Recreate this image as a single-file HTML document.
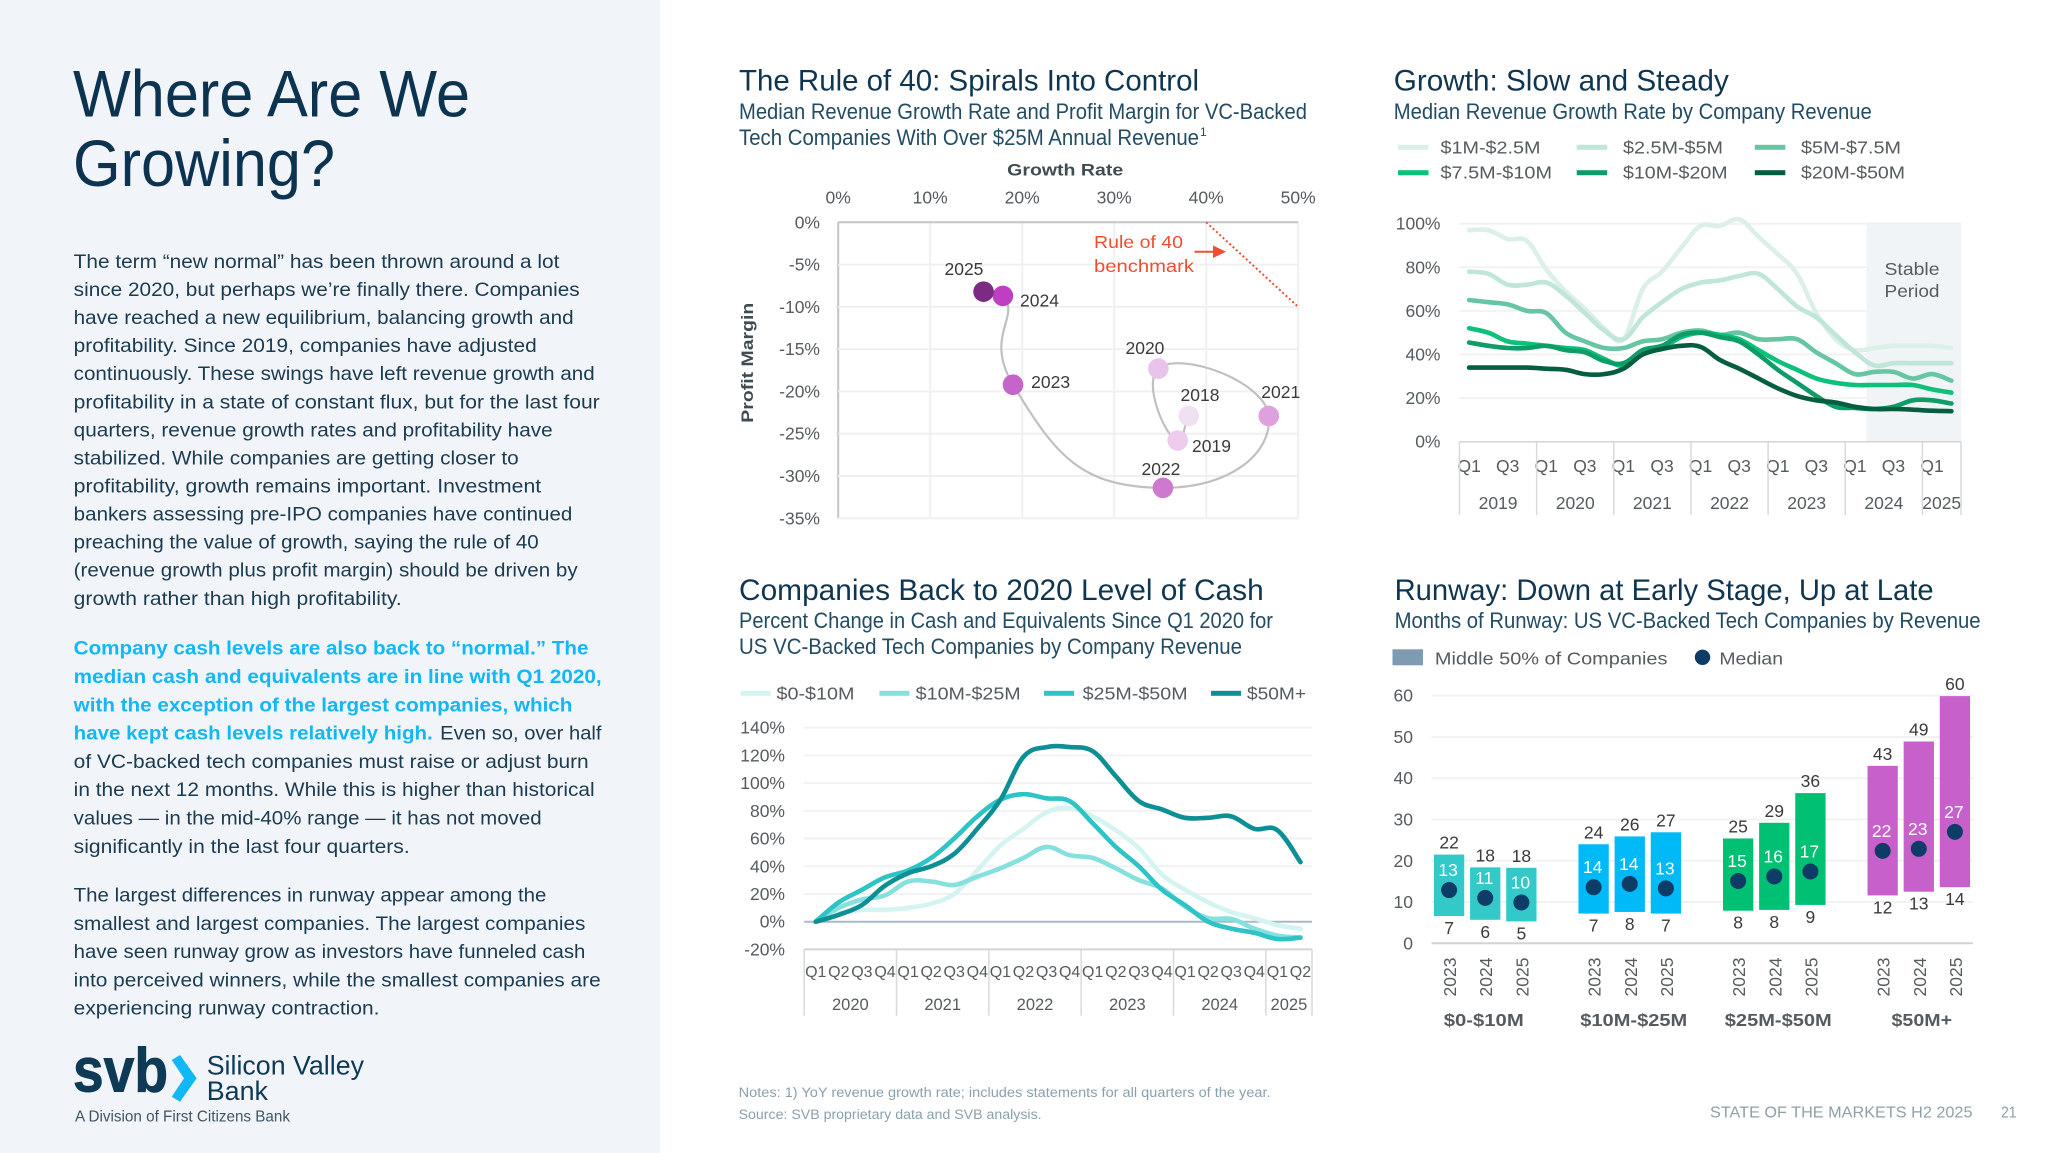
<!DOCTYPE html>
<html lang="en">
<head>
<meta charset="utf-8">
<title>Where Are We Growing?</title>
<style>
html,body{margin:0;padding:0;background:#fff;}
svg{display:block;font-family:"Liberation Sans",sans-serif;}
.body-t{font-size:19.5px;fill:#1a3b50;}
.bold-t{font-size:19.5px;fill:#12b8f5;font-weight:bold;}
.title{font-size:30px;fill:#0f3550;}
.sub{font-size:22px;fill:#234c63;}
.lab{font-size:17.5px;fill:#555b5f;}
</style>
</head>
<body>
<svg id="page" xmlns="http://www.w3.org/2000/svg" width="2048" height="1153" viewBox="0 0 2048 1153">
<rect x="0" y="0" width="2048" height="1153" fill="#ffffff"/>
<rect x="0" y="0" width="660" height="1153" fill="#f1f4f9"/>

<g font-size="66" fill="#0c3350">
<text x="73" y="116.6" textLength="397">Where Are We</text>
<text x="73" y="185.8" textLength="262">Growing?</text>
</g>

<g transform="translate(0,-1)">
<text class="body-t" x="73.7" y="268.9" textLength="485.7">The term “new normal” has been thrown around a lot</text>
<text class="body-t" x="73.7" y="297" textLength="506">since 2020, but perhaps we’re finally there. Companies</text>
<text class="body-t" x="73.7" y="325" textLength="500">have reached a new equilibrium, balancing growth and</text>
<text class="body-t" x="73.7" y="353.1" textLength="463">profitability. Since 2019, companies have adjusted</text>
<text class="body-t" x="73.7" y="381.2" textLength="521">continuously. These swings have left revenue growth and</text>
<text class="body-t" x="73.7" y="409.3" textLength="526">profitability in a state of constant flux, but for the last four</text>
<text class="body-t" x="73.7" y="437.4" textLength="479">quarters, revenue growth rates and profitability have</text>
<text class="body-t" x="73.7" y="465.4" textLength="445">stabilized. While companies are getting closer to</text>
<text class="body-t" x="73.7" y="493.5" textLength="467.5">profitability, growth remains important. Investment</text>
<text class="body-t" x="73.7" y="521.6" textLength="498.7">bankers assessing pre-IPO companies have continued</text>
<text class="body-t" x="73.7" y="549.7" textLength="465">preaching the value of growth, saying the rule of 40</text>
<text class="body-t" x="73.7" y="577.7" textLength="504">(revenue growth plus profit margin) should be driven by</text>
<text class="body-t" x="73.7" y="605.8" textLength="328">growth rather than high profitability.</text>
</g>

<g>
<text class="bold-t" x="73.7" y="654.7" textLength="514.8">Company cash levels are also back to “normal.” The</text>
<text class="bold-t" x="73.7" y="683.2" textLength="528">median cash and equivalents are in line with Q1 2020,</text>
<text class="bold-t" x="73.7" y="711.5" textLength="498.7">with the exception of the largest companies, which</text>
<text class="bold-t" x="73.7" y="739.7" textLength="359">have kept cash levels relatively high.</text>
<text class="body-t" x="440.2" y="739.7" textLength="161.3">Even so, over half</text>
<text class="body-t" x="73.7" y="767.9" textLength="515">of VC-backed tech companies must raise or adjust burn</text>
<text class="body-t" x="73.7" y="796" textLength="521">in the next 12 months. While this is higher than historical</text>
<text class="body-t" x="73.7" y="824.7" textLength="468">values — in the mid-40% range — it has not moved</text>
<text class="body-t" x="73.7" y="852.9" textLength="336">significantly in the last four quarters.</text>
</g>

<g transform="translate(0,-1)">
<text class="body-t" x="73.7" y="902.6" textLength="472.7">The largest differences in runway appear among the</text>
<text class="body-t" x="73.7" y="930.9" textLength="511.7">smallest and largest companies. The largest companies</text>
<text class="body-t" x="73.7" y="959" textLength="511.7">have seen runway grow as investors have funneled cash</text>
<text class="body-t" x="73.7" y="987.3" textLength="527">into perceived winners, while the smallest companies are</text>
<text class="body-t" x="73.7" y="1015.5" textLength="305.7">experiencing runway contraction.</text>
</g>

<g>
<text x="73" y="1091.7" font-size="62" font-weight="bold" fill="#0f3a55" stroke="#0f3a55" stroke-width="0.9" textLength="95">svb</text>
<polygon points="171.7,1060 180,1055 196.7,1078.3 180,1101.7 171.7,1096.7 184,1078.3" fill="#12b8f5"/>
<text x="206.7" y="1074.3" font-size="27" fill="#0f3a55" textLength="157.3">Silicon Valley</text>
<text x="206.7" y="1100" font-size="27" fill="#0f3a55" textLength="61.3">Bank</text>
<text x="75" y="1121.7" font-size="16" fill="#3f5565" textLength="215">A Division of First Citizens Bank</text>
</g>

<g>
<text class="title" x="739" y="90.7" textLength="460">The Rule of 40: Spirals Into Control</text>
<text class="sub" x="739" y="119" textLength="568">Median Revenue Growth Rate and Profit Margin for VC-Backed</text>
<text class="sub" x="739" y="145" textLength="460">Tech Companies With Over $25M Annual Revenue</text>
<text x="1200" y="136" font-size="12" fill="#234c63">1</text>
</g>
<g id="chart1"></g>

<g>
<text class="title" x="1393.8" y="90.7" textLength="335">Growth: Slow and Steady</text>
<text class="sub" x="1393.8" y="119" textLength="478">Median Revenue Growth Rate by Company Revenue</text>
</g>
<g id="chart2"></g>

<g>
<text class="title" x="739" y="600" textLength="524.7">Companies Back to 2020 Level of Cash</text>
<text class="sub" x="739" y="628" textLength="534">Percent Change in Cash and Equivalents Since Q1 2020 for</text>
<text class="sub" x="739" y="654" textLength="503">US VC-Backed Tech Companies by Company Revenue</text>
</g>
<g id="chart3"></g>

<g>
<text class="title" x="1394.6" y="600" textLength="539">Runway: Down at Early Stage, Up at Late</text>
<text class="sub" x="1394.6" y="628" textLength="586">Months of Runway: US VC-Backed Tech Companies by Revenue</text>
</g>
<g id="chart4"></g>

<g fill="#8ba0ad">
<text x="738.6" y="1097" font-size="13.5" textLength="532">Notes: 1) YoY revenue growth rate; includes statements for all quarters of the year.</text>
<text x="738.6" y="1119" font-size="13.5" textLength="303">Source: SVB proprietary data and SVB analysis.</text>
<text x="1710" y="1117.5" font-size="15.5" textLength="262.5" fill="#8da0a8">STATE OF THE MARKETS H2 2025</text>
<text x="2001" y="1117.5" font-size="15.5" textLength="15.6" fill="#8da0a8">21</text>
</g>
</svg>

<script>
/* ---------- Rule of 40 data ---------- */
const r40Years = ['2018','2019','2020','2021','2022','2023','2024','2025'];
const r40Growth = [38.1,36.9,34.8,46.8,35.3,19,17.9,15.8];
const r40Margin = [-22.9,-25.8,-17.3,-22.9,-31.4,-19.2,-8.7,-8.2];
const r40XTicks = [0,10,20,30,40,50];
const r40YTicks = [0,-5,-10,-15,-20,-25,-30,-35];
const r40Benchmark = [40,50];

/* ---------- Growth data ---------- */
const growthQuarters = ['Q1','','Q3','','Q1','','Q3','','Q1','','Q3','','Q1','','Q3','','Q1','','Q3','','Q1','','Q3','','Q1',''];
const growthYears = ['2019','2020','2021','2022','2023','2024','2025'];
const growthYearQuarters = [4,4,4,4,4,4,2];
const growthYTicks = [0,20,40,60,80,100];
const growthNames = ['$1M-$2.5M','$2.5M-$5M','$5M-$7.5M','$7.5M-$10M','$10M-$20M','$20M-$50M'];
const growthA = [97,97,93,92,79,69,61,52,47,70,78,89,99,99,102,94,86,77,59,47,42,43,44,44,44,43];
const growthB = [78,77,72,72,73,67,59,51,47,57,64,70,73,74,76,77,70,62,57,49,41,35,36,36,36,36];
const growthC = [65,64,63,60,59,50,46,43,43,46,47,50,51,49,50,47,47,47,41,36,31,32,32,29,31,28];
const growthD = [52,50,46,45,44,43,42,38,35,41,43,48,50,49,47,42,37,33,29,27,26,26,26,26,24,22.5];
const growthE = [45.5,44,43,43,44,42,41,37,36,42,44,49,50,48,46,40,33,27,21,16,15.5,15,16,19,19,17.5];
const growthF = [34,34,34,34,33.5,33,31,31,33.5,40,42.5,44,43.5,37.5,33.5,29,24.5,21,19,18,16,15,15,14.7,14.2,14];
const growthSeries = [growthA,growthB,growthC,growthD,growthE,growthF];

/* ---------- Cash data ---------- */
const cashQuarters = ['Q1','Q2','Q3','Q4','Q1','Q2','Q3','Q4','Q1','Q2','Q3','Q4','Q1','Q2','Q3','Q4','Q1','Q2','Q3','Q4','Q1','Q2'];
const cashYears = ['2020','2021','2022','2023','2024','2025'];
const cashYearQuarters = [4,4,4,4,4,2];
const cashYTicks = [-20,0,20,40,60,80,100,120,140];
const cashNames = ['$0-$10M','$10M-$25M','$25M-$50M','$50M+'];
const cashA = [0,6,8.5,8.5,10,13,20,37,55,67,79,82,76,66,53,34,23,14,7,2.5,-2.5,-5];
const cashB = [0,10,16,19,29,29,26.5,32.5,38.5,46,54,48,46,38.5,30,24,11,2.5,2,-5,-10,-11.5];
const cashC = [0,14,23,32,37,46,60,76,88,92,89,87,71,54,40,23,12,0,-5,-8,-12.5,-11.5];
const cashD = [0,5,12,26,35,40,49,67,88,119,126,126,123,105,87,81,75,75,76,67,66,43];
const cashSeries = [cashA,cashB,cashC,cashD];

/* ---------- Runway data ---------- */
const runwayGroups = ['$0-$10M','$10M-$25M','$25M-$50M','$50M+'];
const runwayYears = ['2023','2024','2025'];
const runwayYTicks = [0,10,20,30,40,50,60];
const runwayLow = [6.6,5.7,5.3,7.2,7.6,7.2,7.9,8.1,9.3,11.6,12.5,13.6];
const runwayHigh = [21.5,18.4,18.3,24,25.9,26.9,25.4,29.2,36.4,43,48.9,59.9];
const runwayMedian = [12.9,11,9.9,13.6,14.4,13.3,15.1,16.2,17.4,22.4,22.9,27];

/* ---------- Helpers ---------- */
const NS = 'http://www.w3.org/2000/svg';
function make(tag, attrs, parent, txt){
  const n = document.createElementNS(NS, tag);
  for (const k in attrs) n.setAttribute(k, attrs[k]);
  if (txt !== undefined) n.textContent = txt;
  parent.appendChild(n);
  return n;
}
function smooth(pts, t){
  let d = 'M' + pts[0][0].toFixed(1) + ' ' + pts[0][1].toFixed(1);
  for (let i = 0; i < pts.length - 1; i++){
    const p0 = pts[Math.max(i-1,0)], p1 = pts[i], p2 = pts[i+1], p3 = pts[Math.min(i+2,pts.length-1)];
    const c1x = p1[0] + (p2[0]-p0[0])*t, c1y = p1[1] + (p2[1]-p0[1])*t;
    const c2x = p2[0] - (p3[0]-p1[0])*t, c2y = p2[1] - (p3[1]-p1[1])*t;
    d += 'C' + c1x.toFixed(1) + ' ' + c1y.toFixed(1) + ' ' + c2x.toFixed(1) + ' ' + c2y.toFixed(1) + ' ' + p2[0].toFixed(1) + ' ' + p2[1].toFixed(1);
  }
  return d;
}
/* centripetal spline: keeps the spiral rounded where point spacing is uneven */
function centripetal(pts, f){
  const gap = (a,b) => Math.sqrt(Math.hypot(b[0]-a[0], b[1]-a[1])) || 1e-6;
  const tangent = (prev,cur,next) => {
    if (!prev) { const d = gap(cur,next); return [(next[0]-cur[0])/d, (next[1]-cur[1])/d]; }
    if (!next) { const d = gap(prev,cur); return [(cur[0]-prev[0])/d, (cur[1]-prev[1])/d]; }
    const d1 = gap(prev,cur), d2 = gap(cur,next);
    return [0,1].map(k => (cur[k]-prev[k])/d1 - (next[k]-prev[k])/(d1+d2) + (next[k]-cur[k])/d2);
  };
  let d = 'M' + pts[0][0].toFixed(1) + ' ' + pts[0][1].toFixed(1);
  for (let i = 0; i < pts.length - 1; i++){
    const p1 = pts[i], p2 = pts[i+1];
    const m1 = tangent(pts[i-1], p1, p2), m2 = tangent(p1, p2, pts[i+2]);
    const h = gap(p1,p2) * f;
    d += 'C' + (p1[0]+m1[0]*h).toFixed(1) + ' ' + (p1[1]+m1[1]*h).toFixed(1) + ' ' + (p2[0]-m2[0]*h).toFixed(1) + ' ' + (p2[1]-m2[1]*h).toFixed(1) + ' ' + p2[0].toFixed(1) + ' ' + p2[1].toFixed(1);
  }
  return d;
}

/* ---------- Chart 1: Rule of 40 ---------- */
(function(){
  const g = document.getElementById('chart1');
  const px = v => 838.2 + v * 9.2;
  const py = v => 222.3 - v * 8.457;
  const pointColors = ['#f1e0f2','#edccee','#e8c4ea','#dfa0de','#cf78d0','#c565c9','#bf3fc2','#7d2a85'];
  const labelOffsetX = [11.3,33.8,-13.4,12,-2,37.6,36.6,-19.6];
  const labelOffsetY = [-21,5.5,-20.6,-24,-18.8,-2.7,4.8,-22.6];
  r40XTicks.forEach(t => {
    const l = make('line',{x1:px(t),x2:px(t),y1:py(0),y2:py(-35),stroke:t===0?'#c4c4c4':'#f0f0f0','stroke-width':2},g);
    
    
    const n = make('text',{x:px(t),y:197.7,'text-anchor':'middle','dominant-baseline':'central',class:'lab'},g,t+'%');
    
    
  });
  r40YTicks.forEach(t => {
    const l = make('line',{x1:px(0),x2:px(50),y1:py(t),y2:py(t),stroke:t===0?'#c4c4c4':'#f0f0f0','stroke-width':2},g);
    
    
    const n = make('text',{x:820,y:py(t),'text-anchor':'end','dominant-baseline':'central',class:'lab'},g,t+'%');
    
    
  });
  const xt = make('text',{x:1065.2,y:170,'text-anchor':'middle','dominant-baseline':'central','font-size':17,'font-weight':'bold',fill:'#3f4d52',textLength:116},g,'Growth Rate');
  
  
  const yt = make('text',{x:0,y:0,'text-anchor':'middle','dominant-baseline':'central','font-size':17,'font-weight':'bold',fill:'#3f4d52',textLength:120,transform:'translate(747.7,362.7) rotate(-90)'},g,'Profit Margin');
  
  
  const bench = make('line',{x1:px(r40Benchmark[0]),y1:py(0),x2:px(r40Benchmark[1]),y2:py(r40Benchmark[0]-r40Benchmark[1]),stroke:'#f04e30','stroke-width':2,'stroke-dasharray':'2 2.5'},g);
  
  
  const rt1 = make('text',{x:1094,y:242,'dominant-baseline':'central','font-size':17.5,fill:'#f04e30',textLength:89},g,'Rule of 40');
  
  
  const rt2 = make('text',{x:1094,y:266,'dominant-baseline':'central','font-size':17.5,fill:'#f04e30',textLength:100},g,'benchmark');
  
  
  const arL = make('line',{x1:1194.5,y1:251.7,x2:1218,y2:251.7,stroke:'#f04e30','stroke-width':2},g);
  
  
  const arH = make('polygon',{points:'1213,245.5 1226,251.7 1213,258',fill:'#f04e30'},g);
  
  
  const pts = r40Growth.map((v,i) => [px(v), py(r40Margin[i])]);
  const path = make('path',{d:centripetal(pts,0.6),fill:'none',stroke:'#c0c0c0','stroke-width':2.2},g);
  
  
  pts.forEach((p,i) => {
    const c = make('circle',{cx:p[0],cy:p[1],r:10.3,fill:pointColors[i]},g);
    
    
  });
  pts.forEach((p,i) => {
    const n = make('text',{x:p[0]+labelOffsetX[i],y:p[1]+labelOffsetY[i],'text-anchor':'middle','dominant-baseline':'central','font-size':17.5,fill:'#3a3a3a'},g,r40Years[i]);
    
    
  });
})();

/* ---------- Chart 2: Growth ---------- */
(function(){
  const g = document.getElementById('chart2');
  const left = 1459.5, right = 1961, step = (right-left)/growthQuarters.length;
  const px = i => left + step*(i+0.5);
  const py = v => 441.7 - v*2.18;
  const colors = ['#dcefe8','#bfe6d8','#66c6a2','#0cc27a','#0f9d67','#045e3f'];
  const legendSwatch = [1398,1576.7,1754.8];
  const legendText = [1440.5,1623,1801];
  const legendRow = [147.3,172.7];
  const legendWidth = [100,100,100,111.5,104.6,104];
  growthYTicks.forEach(t => {
    if (t !== 0){
      const l = make('line',{x1:left,x2:right,y1:py(t),y2:py(t),stroke:'#f2f2f2','stroke-width':2},g);
      
      
    }
    const n = make('text',{x:1440.5,y:py(t),'text-anchor':'end','dominant-baseline':'central',class:'lab'},g,t+'%');
    
    
  });
  const sr = make('rect',{x:left+step*21.1,y:222.3,width:right-left-step*21.1,height:441.7-222.3,fill:'#f1f4f6'},g);
  
  
  const s1 = make('text',{x:1912,y:269,'text-anchor':'middle','dominant-baseline':'central',class:'lab',textLength:55},g,'Stable');
  
  
  const s2 = make('text',{x:1912,y:291,'text-anchor':'middle','dominant-baseline':'central',class:'lab',textLength:55},g,'Period');
  
  
  const ax = make('line',{x1:left,x2:right,y1:py(0),y2:py(0),stroke:'#d4d4d4','stroke-width':1.5},g);
  
  
  growthQuarters.forEach((q,i) => {
    if (!q) return;
    const n = make('text',{x:px(i),y:466,'text-anchor':'middle','dominant-baseline':'central',class:'lab'},g,q);
    
    
  });
  let pos = 0;
  growthYears.forEach((y,i) => {
    const x0 = left + pos*step;
    const sep = make('line',{x1:x0,x2:x0,y1:441.7,y2:515,stroke:'#d9d9d9','stroke-width':1.5},g);
    
    
    const n = make('text',{x:x0+growthYearQuarters[i]*step/2,y:503,'text-anchor':'middle','dominant-baseline':'central',class:'lab'},g,y);
    
    
    pos += growthYearQuarters[i];
  });
  const endSep = make('line',{x1:right,x2:right,y1:441.7,y2:515,stroke:'#d9d9d9','stroke-width':1.5},g);
  
  
  growthSeries.forEach((s,k) => {
    const path = make('path',{d:smooth(s.map((v,i)=>[px(i),py(v)]),0.18),fill:'none',stroke:colors[k],'stroke-width':4.6,'stroke-linecap':'round','stroke-linejoin':'round'},g);
    
    
  });
  growthNames.forEach((nm,k) => {
    const col = k%3, row = Math.floor(k/3);
    const sw = make('rect',{x:legendSwatch[col],y:legendRow[row]-2.5,width:30.5,height:5,fill:colors[k]},g);
    
    
    const n = make('text',{x:legendText[col],y:legendRow[row],'dominant-baseline':'central',class:'lab',textLength:legendWidth[k]},g,nm);
    
    
  });
})();

/* ---------- Chart 3: Cash ---------- */
(function(){
  const g = document.getElementById('chart3');
  const left = 804.2, right = 1312, step = (right-left)/cashQuarters.length;
  const px = i => left + step*(i+0.5);
  const py = v => 921.7 - v*1.386;
  const colors = ['#d3f4f1','#86e0de','#2ec4c6','#0d8f96'];
  const swX = [740.6,879.4,1044,1211];
  const txtX = [776.5,915.7,1082.6,1247];
  const txtW = [78,105,105,59];
  cashYTicks.forEach(t => {
    const stroke = t===0 ? '#a9b9c6' : (t===-20 ? '#d4d4d4' : '#f2f2f2');
    const l = make('line',{x1:left,x2:right,y1:py(t),y2:py(t),stroke:stroke,'stroke-width':2},g);
    
    
    const n = make('text',{x:785,y:py(t),'text-anchor':'end','dominant-baseline':'central',class:'lab'},g,t+'%');
    
    
  });
  cashQuarters.forEach((q,i) => {
    const n = make('text',{x:px(i),y:972.7,'text-anchor':'middle','dominant-baseline':'central','font-size':16,fill:'#555b5f'},g,q);
    
    
  });
  let pos = 0;
  cashYears.forEach((y,i) => {
    const x0 = left + pos*step;
    const sep = make('line',{x1:x0,x2:x0,y1:py(-20),y2:1015.7,stroke:'#d9d9d9','stroke-width':1.5},g);
    
    
    const n = make('text',{x:x0+cashYearQuarters[i]*step/2,y:1005,'text-anchor':'middle','dominant-baseline':'central','font-size':16.5,fill:'#555b5f'},g,y);
    
    
    pos += cashYearQuarters[i];
  });
  const endSep = make('line',{x1:right,x2:right,y1:py(-20),y2:1015.7,stroke:'#d9d9d9','stroke-width':1.5},g);
  
  
  cashSeries.forEach((s,k) => {
    const path = make('path',{d:smooth(s.map((v,i)=>[px(i),py(v)]),0.18),fill:'none',stroke:colors[k],'stroke-width':4.6,'stroke-linecap':'round','stroke-linejoin':'round'},g);
    
    
  });
  cashNames.forEach((nm,k) => {
    const sw = make('rect',{x:swX[k],y:690.8,width:30,height:5,fill:colors[k]},g);
    
    
    const n = make('text',{x:txtX[k],y:693.3,'dominant-baseline':'central',class:'lab',textLength:txtW[k]},g,nm);
    
    
  });
})();

/* ---------- Chart 4: Runway ---------- */
(function(){
  const g = document.getElementById('chart4');
  const firstBar = 1449.1, slot = 36.13, barW = 30.3;
  const py = v => 943.3 - v*4.127;
  const groupColors = ['#33c9c9','#00b9f7','#00c173','#c860cc'];
  const groupWidths = [80,107,107,60.5];
  const groupOffset = [-1.5,4,4,3];
  const lg = make('rect',{x:1392.5,y:649.3,width:30.5,height:16,fill:'#7f9bb3'},g);
  
  
  const lt = make('text',{x:1434.9,y:658.7,'dominant-baseline':'central',class:'lab',textLength:232.6},g,'Middle 50% of Companies');
  
  
  const ld = make('circle',{cx:1702.5,cy:657.3,r:7.7,fill:'#0d3c66'},g);
  
  
  const lm = make('text',{x:1719.4,y:658.7,'dominant-baseline':'central',class:'lab',textLength:63.6},g,'Median');
  
  
  runwayYTicks.forEach(t => {
    const l = make('line',{x1:1431.4,x2:1973.2,y1:py(t),y2:py(t),stroke:t===0?'#d4d4d4':'#f2f2f2','stroke-width':2},g);
    
    
    const n = make('text',{x:1413,y:py(t),'text-anchor':'end','dominant-baseline':'central',class:'lab'},g,String(t));
    
    
  });
  runwayHigh.forEach((hi,i) => {
    const grp = Math.floor(i/runwayYears.length);
    const inGrp = i % runwayYears.length;
    const cx = firstBar + slot*(grp*(runwayYears.length+1)+inGrp);
    const lo = runwayLow[i], med = runwayMedian[i];
    const b = make('rect',{x:cx-barW/2,y:py(hi),width:barW,height:py(lo)-py(hi),fill:groupColors[grp]},g);
    
    
    const d = make('circle',{cx:cx,cy:py(med),r:8,fill:'#0d3c66'},g);
    
    
    const ml = make('text',{x:cx-1,y:py(med)-20,'text-anchor':'middle','dominant-baseline':'central','font-size':17.5,fill:'#ffffff'},g,String(Math.round(med)));
    
    
    const hl = make('text',{x:cx,y:py(hi)-12,'text-anchor':'middle','dominant-baseline':'central','font-size':17.5,fill:'#3a3a3a'},g,String(Math.round(hi)));
    
    
    const ll = make('text',{x:cx,y:py(lo)+12,'text-anchor':'middle','dominant-baseline':'central','font-size':17.5,fill:'#3a3a3a'},g,String(Math.round(lo)));
    
    
    const yl = make('text',{x:0,y:0,'text-anchor':'middle','dominant-baseline':'central',class:'lab',transform:'translate(' + (cx+1) + ',977) rotate(-90)'},g,runwayYears[inGrp]);
    
    
  });
  runwayGroups.forEach((nm,k) => {
    const cx = firstBar + slot*(k*(runwayYears.length+1)+1) + groupOffset[k];
    const n = make('text',{x:cx,y:1020,'text-anchor':'middle','dominant-baseline':'central','font-size':17.5,'font-weight':'bold',fill:'#555b5f',textLength:groupWidths[k]},g,nm);
    
    
  });
})();

document.querySelectorAll('text[textLength]').forEach(function(t){
  t.setAttribute('lengthAdjust','spacingAndGlyphs');
});
</script>
</body>
</html>
